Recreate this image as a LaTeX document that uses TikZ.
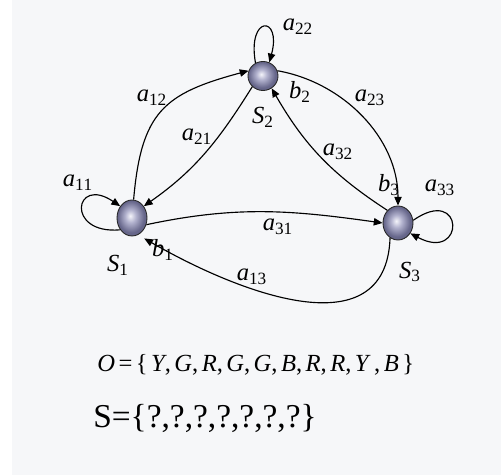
\documentclass[tikz,border=0pt]{standalone}
\usepackage{fontspec}
\setmainfont{Liberation Serif}
\usetikzlibrary{arrows.meta, shapes.geometric}
\definecolor{orbhi}{HTML}{F4F4FA}
\definecolor{orbmid}{HTML}{B2B2CE}
\definecolor{orbrim}{HTML}{66668A}
\definecolor{paper}{HTML}{F6F7F9}
\pgfdeclareradialshading{orb}{\pgfpoint{-3bp}{3bp}}{color(0bp)=(orbhi); color(9bp)=(orbmid); color(22bp)=(orbrim); color(50bp)=(orbrim)}
\tikzset{
  hmmstate/.style={ellipse, draw=black!85, line width=0.5pt, shading=orb, inner sep=0pt, minimum width=0.6cm},
  trans/.style={-{Triangle[length=5pt,width=4.2pt]}, line width=0.65pt, color=black},
  lab/.style={font=\fontsize{14}{16}\selectfont, inner sep=0pt}
}
\newcommand{\sym}[2]{$\mathit{#1}_{\mathrm{#2}}$}
\newcommand{\gap}{\hspace{0.14em}}

\begin{document}
\begin{tikzpicture}[x=0.02cm, y=0.02cm]
\useasboundingbox (0,0) rectangle (501,-475);
\fill[white] (0,0) rectangle (501,-475);
\fill[paper] (12,0) rectangle (501,-475);

% states
\node[hmmstate, minimum height=0.72cm] (S1) at (132,-218) {};
\node[hmmstate, minimum height=0.58cm] (S2) at (263,-76) {};
\node[hmmstate, minimum height=0.68cm] (S3) at (398,-223) {};

% transitions
\draw[trans] (S1.225) to[out=185,in=146,looseness=6] (S1.135);
\draw[trans] (S2.120) to[out=100,in=75,looseness=9] (S2.65);
\draw[trans] (S3.10) to[out=35,in=-28,looseness=12] (S3.-40);

\draw[trans] (S1.85) to[out=85,in=195,looseness=1.3] (S2.160);
\draw[trans] (S2.225) to[out=238,in=35] (S1.45);
\draw[trans] (S2.20) to[out=-10,in=90,looseness=0.95] (S3.north);
\draw[trans] (S3.130) to[out=147,in=-60] (S2.-55);
\draw[trans] (S1.-25) to[out=12,in=172] (S3.west);
\draw[trans, shorten >=4pt] (S3.-118) to[out=-92,in=-30,looseness=1.15] (S1.-70);

% labels
\node[lab] (l11) at (78,-183) {\sym{a}{11}};
\node[lab] (l22) at (298,-27) {\sym{a}{22}};
\node[lab] (l33) at (440,-188) {\sym{a}{33}};
\node[lab] (l12) at (152,-98) {\sym{a}{12}};
\node[lab] (l21) at (197,-137) {\sym{a}{21}};
\node[lab] (l23) at (370,-98) {\sym{a}{23}};
\node[lab] (l32) at (338,-152) {\sym{a}{32}};
\node[lab] (l31) at (278,-227) {\sym{a}{31}};
\node[lab] (l13) at (252,-277) {\sym{a}{13}};
\node[lab] (n1) at (118,-265) {\sym{S}{1}};
\node[lab] (n2) at (263,-117) {\sym{S}{2}};
\node[lab] (n3) at (410,-272) {\sym{S}{3}};
\node[lab] (b1) at (163,-250) {\sym{b}{1}};
\node[lab] (b2) at (300,-92) {\sym{b}{2}};
\node[lab] (b3) at (389,-185) {\sym{b}{3}};

% sequences
\node[anchor=west, inner sep=0pt, font=\fontsize{14}{17}\selectfont] (obs) at (97,-365)
  {\textit{O}\gap=\gap\{\gap\textit{Y},\gap\textit{G},\gap\textit{R},\gap\textit{G},\gap\textit{G},\gap\textit{B},\gap\textit{R},\gap\textit{R},\gap\textit{Y}\gap,\gap\textit{B}\gap\}};
\node[anchor=west, inner sep=0pt, font=\fontsize{19}{22}\selectfont] (seq) at (93,-418)
  {S=\{?,?,?,?,?,?,?\}};
\end{tikzpicture}
\end{document}
